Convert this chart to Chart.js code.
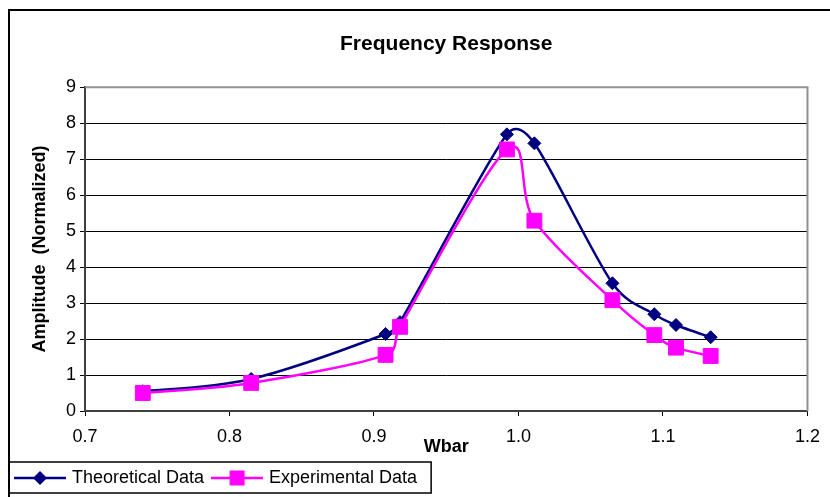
<!DOCTYPE html>
<html>
<head>
<meta charset="utf-8">
<script src="https://cdn.jsdelivr.net/npm/chart.js@4"></script>
<style>
  html, body { margin: 0; padding: 0; background: #fff; }
</style>
</head>
<body>
<canvas id="freqChart" width="830" height="497"></canvas>
<script>
// values
const wbarTheory = [0.740, 0.815, 0.908, 0.918, 0.992, 1.011, 1.065, 1.094, 1.109, 1.133];
const ampTheory  = [0.55, 0.89, 2.14, 2.47, 7.69, 7.44, 3.55, 2.69, 2.39, 2.05];
const wbarExp    = [0.740, 0.815, 0.908, 0.918, 0.992, 1.011, 1.065, 1.094, 1.109, 1.133];
const ampExp     = [0.50, 0.78, 1.56, 2.34, 7.27, 5.29, 3.08, 2.11, 1.76, 1.53];
const seriesNames = ['Theoretical Data', 'Experimental Data'];

const NAVY = '#000080';
const PINK = '#FF00FF';

Chart.defaults.font.family = "'Liberation Sans', Arial, sans-serif";
Chart.defaults.color = '#000';

// little line+marker images for the legend, like the spreadsheet legend
function legendSwatch(color, shape, r) {
    const c = document.createElement('canvas');
    c.width = 52;
    c.height = 20;
    const g = c.getContext('2d');
    g.strokeStyle = color;
    g.lineWidth = 2.5;
    g.beginPath();
    g.moveTo(0, 10);
    g.lineTo(52, 10);
    g.stroke();
    g.fillStyle = color;
    g.beginPath();
    if (shape === 'diamond') {
        g.moveTo(26 - r, 10);
        g.lineTo(26, 10 - r);
        g.lineTo(26 + r, 10);
        g.lineTo(26, 10 + r);
        g.closePath();
    } else {
        g.rect(26 - r, 10 - r, 2 * r, 2 * r);
    }
    g.fill();
    return c;
}
const swatches = [legendSwatch(NAVY, 'diamond', 7), legendSwatch(PINK, 'square', 7.5)];

// spreadsheet style smoothing: Catmull-Rom arms (1/6 of neighbour span),
// each arm capped at half of its own segment so short segments don't loop
const excelSmooth = {
    id: 'excelSmooth',
    beforeDatasetDraw(chart, args) {
        const meta = args.meta;
        if (!meta.dataset || !meta.dataset.updateControlPoints) return;
        meta.dataset.updateControlPoints(chart.chartArea, 'x');
        const pts = meta.data;
        const dist = (a, b) => Math.hypot(b.x - a.x, b.y - a.y);
        for (let i = 0; i < pts.length; i++) {
            const p = pts[i];
            const prev = pts[i - 1] || p;
            const next = pts[i + 1] || p;
            const tx = next.x - prev.x;
            const ty = next.y - prev.y;
            const span = Math.hypot(tx, ty) || 1;
            const armIn = Math.min(span / 6, dist(prev, p) / 2);
            const armOut = Math.min(span / 6, dist(p, next) / 2);
            p.cp1x = p.x - tx / span * armIn;
            p.cp1y = p.y - ty / span * armIn;
            p.cp2x = p.x + tx / span * armOut;
            p.cp2y = p.y + ty / span * armOut;
        }
    }
};

const framePlugin = {
    id: 'frames',
    beforeDatasetsDraw(chart) {
        const { ctx, chartArea: a } = chart;
        ctx.save();
        ctx.strokeStyle = '#909090';
        ctx.lineWidth = 2;
        ctx.beginPath();
        ctx.moveTo(a.left, a.top);
        ctx.lineTo(a.right, a.top);
        ctx.lineTo(a.right, a.bottom);
        ctx.stroke();
        ctx.restore();
    },
    afterDraw(chart) {
        const ctx = chart.ctx;
        ctx.save();
        ctx.strokeStyle = '#000';
        ctx.lineWidth = 2;
        ctx.strokeRect(9, 10, 900, 600);
        const hb = chart.legend.legendHitBoxes;
        const last = hb[hb.length - 1];
        const right = last.left + last.width + 14;
        ctx.lineWidth = 1.5;
        ctx.strokeRect(9, chart.legend.top + 3, right - 9, 31);
        ctx.restore();
    }
};

const ctx = document.getElementById('freqChart').getContext('2d');
const freqChart = new Chart(ctx, {
    type: 'line',
    data: {
        datasets: [
            {
                label: seriesNames[0],
                data: wbarTheory.map((x, i) => ({ x: x, y: ampTheory[i] })),
                borderColor: NAVY,
                backgroundColor: NAVY,
                borderWidth: 2.5,
                pointStyle: 'rectRot',
                pointRadius: 6.5,
                pointBorderWidth: 1,
                tension: 0.3,
                order: 1
            },
            {
                label: seriesNames[1],
                data: wbarExp.map((x, i) => ({ x: x, y: ampExp[i] })),
                borderColor: PINK,
                backgroundColor: PINK,
                borderWidth: 2.5,
                pointStyle: 'rect',
                pointRadius: 10.5,
                pointBorderWidth: 1,
                tension: 0.3,
                order: 0
            }
        ]
    },
    options: {
        responsive: false,
        animation: false,
        layout: { padding: { left: 7, right: 22, top: 0, bottom: 0 } },
        scales: {
            x: {
                type: 'linear',
                min: 0.7,
                max: 1.2,
                afterFit: (s) => { s.height = 48; },
                ticks: {
                    stepSize: 0.1,
                    padding: 10,
                    font: { size: 18 },
                    callback: (v) => Number(v).toFixed(1)
                },
                grid: { display: true, drawOnChartArea: false, drawTicks: true, tickLength: 5, color: '#000' },
                border: { color: '#404040', width: 2 },
                title: {
                    display: true,
                    text: 'Wbar',
                    font: { size: 18, weight: 'bold' },
                    padding: { top: -8, bottom: 1 }
                }
            },
            y: {
                min: 0,
                max: 9,
                afterFit: (s) => { s.width = 78; },
                ticks: { stepSize: 1, padding: 4, font: { size: 18 } },
                grid: { color: '#000', lineWidth: 1, tickLength: 5 },
                border: { color: '#404040', width: 2 },
                title: {
                    display: true,
                    text: 'Amplitude  (Normalized)',
                    font: { size: 18, weight: 'bold' },
                    padding: { top: 22, bottom: 0 }
                }
            }
        },
        plugins: {
            title: {
                display: true,
                fullSize: false,
                text: 'Frequency Response',
                font: { size: 21, weight: 'bold' },
                color: '#000',
                padding: { top: 32, bottom: 30 }
            },
            legend: {
                position: 'bottom',
                align: 'start',
                labels: {
                    usePointStyle: true,
                    pointStyleWidth: 46,
                    padding: 10,
                    font: { size: 18 },
                    color: '#000',
                    sort: (a, b) => a.datasetIndex - b.datasetIndex,
                    generateLabels: (chart) => {
                        const items = Chart.defaults.plugins.legend.labels.generateLabels(chart);
                        items.forEach(it => { it.pointStyle = swatches[it.datasetIndex]; });
                        return items;
                    }
                }
            },
            tooltip: { enabled: false }
        }
    },
    plugins: [excelSmooth, framePlugin]
});
</script>
</body>
</html>
